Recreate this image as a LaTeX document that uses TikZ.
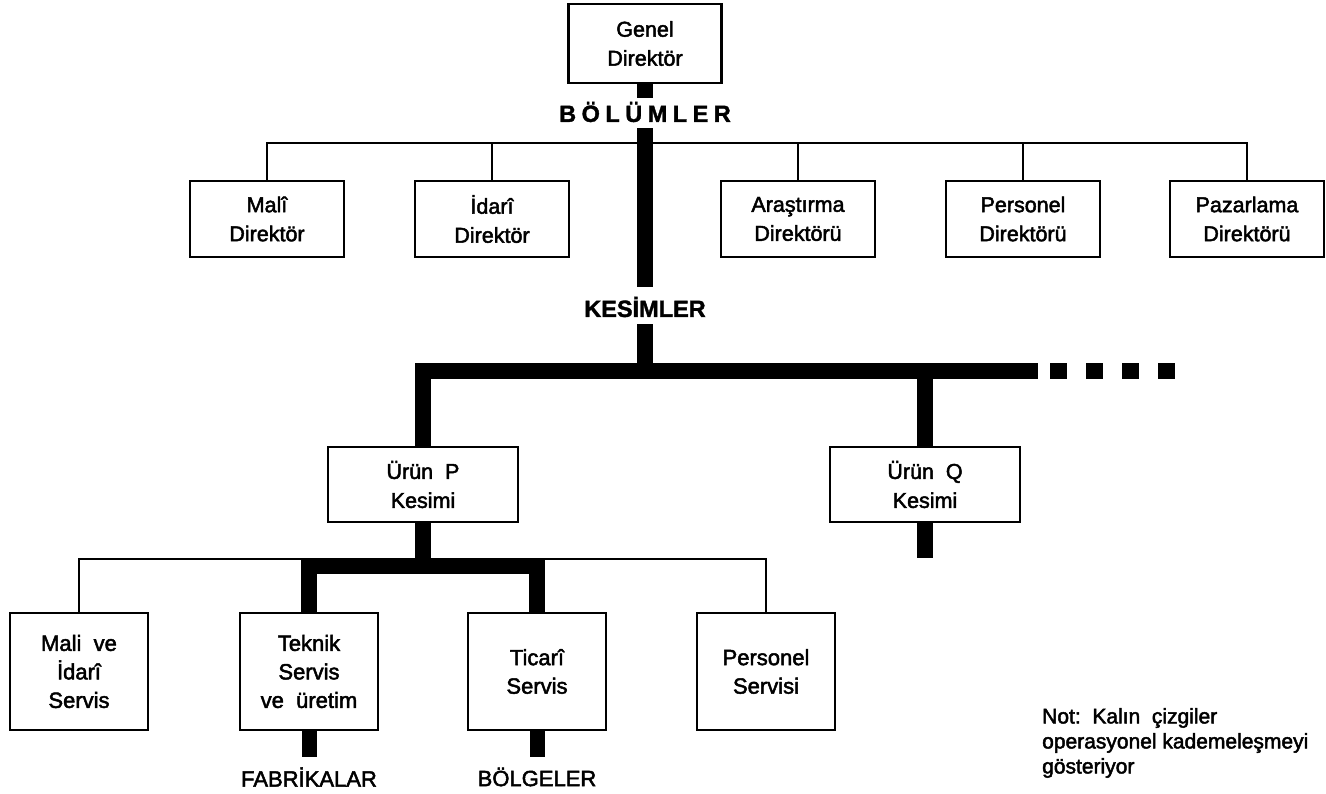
\documentclass[tikz,border=0pt]{standalone}
\usepackage{fontspec}
\setmainfont{Liberation Sans}
\newfontfamily\medfont{Liberation Sans}[FakeBold=2.2]
\newfontfamily\hvyfont{Liberation Sans Bold}[FakeBold=1.5]
\begin{document}
\begin{tikzpicture}[x=1pt,y=-1pt,
  box/.style={draw, line width=2.8pt, align=center, inner sep=0pt, font=\medfont\fontsize{21.5}{29}\selectfont},
  topbox/.style={box, minimum width=154pt, minimum height=76pt},
  midbox/.style={box, minimum width=190pt, minimum height=75pt},
  lowbox/.style={box, minimum width=138pt, minimum height=117pt, font=\medfont\fontsize{22}{28.5}\selectfont},
  conn/.style={line width=2.5pt},
  opline/.style={line width=16pt, line join=miter},
  lbl/.style={inner sep=0pt, font=\hvyfont\fontsize{23.5}{26}\selectfont},
  foot/.style={inner sep=0pt, font=\medfont\fontsize{22}{26}\selectfont},
  note/.style={inner sep=0pt, align=left, anchor=north west, font=\medfont\fontsize{21}{25}\selectfont},
]
\useasboundingbox (0,0) rectangle (1326,793);

% top
\node[box, minimum width=153pt, minimum height=79pt] (gd) at (645,43.5) {Genel\\Direktör};
\node[lbl] (bol) at (645,112) {B\kern5.5pt Ö\kern5.5pt L\kern5.5pt Ü\kern5.5pt M\kern5.5pt L\kern5.5pt E\kern5.5pt R};
\coordinate (s1) at (645,98);
\draw[opline] (gd.south) -- (s1);

\node[topbox] (mali) at (267,219) {Malî\\Direktör};
\node[topbox] (idari) at (492,219) {İdarî\\Direktör};
\node[topbox] (aras) at (798,219) {Araştırma\\Direktörü};
\node[topbox] (pers) at (1023,219) {Personel\\Direktörü};
\node[topbox] (paz) at (1247,219) {Pazarlama\\Direktörü};

\coordinate (h1) at (645,143);
\draw[conn] (mali.north) |- (paz.north |- h1) -- (paz.north);
\draw[conn] (idari.north) -- (idari.north |- h1);
\draw[conn] (aras.north) -- (aras.north |- h1);
\draw[conn] (pers.north) -- (pers.north |- h1);

\node[lbl] (kes) at (645,307) {KESİMLER};
\draw[opline, shorten <=6pt, shorten >=10pt] (bol.south) -- (bol.south |- kes.north);

% divisions
\node[midbox] (urunP) at (423,484.5) {Ürün\ \ P\\Kesimi};
\node[midbox] (urunQ) at (925,484.5) {Ürün\ \ Q\\Kesimi};
\coordinate (bar) at (645,371);
\coordinate (barR) at (1038,371);
\coordinate (dashS) at (1050,371);
\coordinate (dashE) at (1176,371);
\draw[opline, shorten <=7pt] (kes.south) -- (bar);
\draw[opline] (urunP.north) |- (barR);
\draw[opline] (urunQ.north) -- (urunQ.north |- barR);
\draw[opline, dash pattern=on 17pt off 19pt] (dashS) -- (dashE);
\coordinate (qend) at (925,558);
\draw[opline] (urunQ.south) -- (qend);

% services
\node[lowbox] (mis) at (79,671.5) {Mali\ \ ve\\İdarî\\Servis};
\node[lowbox] (tek) at (309,671.5) {Teknik\\Servis\\ve\ \ üretim};
\node[lowbox] (tic) at (537,671.5) {Ticarî\\Servis};
\node[lowbox] (psv) at (766,671.5) {Personel\\Servisi};

\coordinate (h2) at (423,559);
\coordinate (h2t) at (423,566);
\draw[conn] (mis.north) |- (psv.north |- h2) -- (psv.north);
\draw[opline] (tek.north) |- (h2t) -| (tic.north);
\draw[opline] (urunP.south) -- (h2t);

\node[foot] (fab) at (309,777) {FABRİKALAR};
\node[foot] (bolg) at (537,777) {BÖLGELER};
\draw[opline, line width=15pt, shorten >=10pt] (tek.south) -- (fab.north);
\draw[opline, line width=15pt, shorten >=10pt] (tic.south) -- (bolg.north);

\node[note] (not) at (1042,708) {Not:\ \ Kalın\ \ çizgiler\\operasyonel kademeleşmeyi\\gösteriyor};
\end{tikzpicture}
\end{document}
